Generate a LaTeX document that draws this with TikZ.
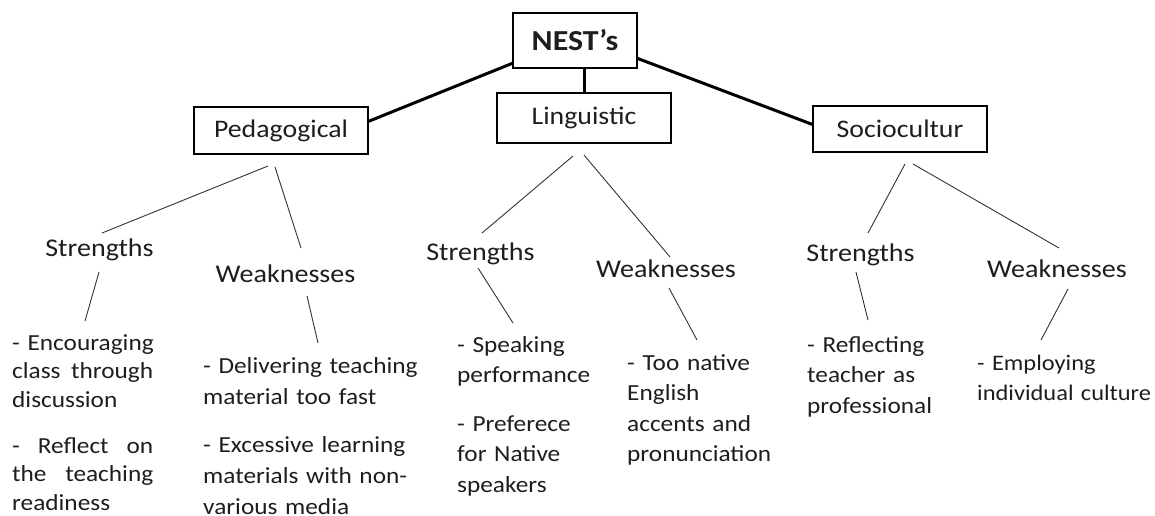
\documentclass[tikz,border=0pt]{standalone}
\usepackage{fontspec}
\setmainfont{Carlito}[FakeStretch=1.1]
\definecolor{textc}{HTML}{1E1E1E}
\definecolor{linec}{HTML}{333333}
\newcommand{\jline}[1]{\leavevmode\hbox to 141pt{#1}}
\begin{document}
\begin{tikzpicture}[x=1pt,y=-1pt,
  box/.style={draw=black, line width=1.4pt, inner sep=0pt, font=\fontsize{25.3}{30}\selectfont, text=textc},
  trunk/.style={line width=3pt, draw=black},
  twig/.style={line width=0.9pt, draw=linec},
  lbl/.style={inner sep=0pt, anchor=base, font=\fontsize{25.5}{30}\selectfont, text=textc},
  itema/.style={inner sep=0pt, anchor=base west, align=left, text width=#1, font=\fontsize{23}{28.5}\selectfont, text=textc},
  itemb/.style={inner sep=0pt, anchor=base west, align=left, text width=#1, font=\fontsize{23}{30.5}\selectfont, text=textc},
  itemc/.style={inner sep=0pt, anchor=base west, align=left, text width=#1, font=\fontsize{23}{31}\selectfont, text=textc},
]
\fill[white] (0,0) rectangle (1155,515);
\useasboundingbox (0,0) rectangle (1155,515);

% boxes
\node[box, minimum width=124pt, minimum height=55pt, font=\fontsize{29}{30}\selectfont\bfseries] (nest) at (575,40.5) {NEST’s};
\node[box, minimum width=174pt, minimum height=47pt] (ped) at (281,130.5) {Pedagogical};
\node[box, minimum width=174pt, minimum height=50pt] (ling) at (584,118) {Linguistic};
\node[box, minimum width=174pt, minimum height=46pt] (soc) at (900,129) {Sociocultur};

% trunks
\draw[trunk] (nest.200) -- (ped.6);
\draw[trunk] (nest.south -| ling.north) -- (ling.north);
\draw[trunk] (nest.-16) -- (soc.177);

% labels
\node[lbl] (pS) at (99.5,256) {Strengths};
\node[lbl] (pW) at (285.5,282) {Weaknesses};
\node[lbl] (lS) at (480.5,260) {Strengths};
\node[lbl] (lW) at (666,277) {Weaknesses};
\node[lbl] (sS) at (860.5,261) {Strengths};
\node[lbl] (sW) at (1057,277) {Weaknesses};

% connector end points
\coordinate (pa1) at (268,166); \coordinate (pa2) at (102,233);
\coordinate (pb1) at (275,167); \coordinate (pb2) at (301,248);
\coordinate (pc1) at (99,272);  \coordinate (pc2) at (85,321);
\coordinate (pd1) at (307,296); \coordinate (pd2) at (318,343);
\coordinate (la1) at (573,156); \coordinate (la2) at (482,233);
\coordinate (lb1) at (584,155); \coordinate (lb2) at (670,257);
\coordinate (lc1) at (478,268); \coordinate (lc2) at (513,323);
\coordinate (ld1) at (669,288); \coordinate (ld2) at (697,340);
\coordinate (sa1) at (905,164); \coordinate (sa2) at (868,233);
\coordinate (sb1) at (913,164); \coordinate (sb2) at (1059,248);
\coordinate (sc1) at (856,272); \coordinate (sc2) at (868,320);
\coordinate (sd1) at (1068,289); \coordinate (sd2) at (1041,340);

\draw[twig] (pa1) -- (pa2);
\draw[twig] (pb1) -- (pb2);
\draw[twig] (pc1) -- (pc2);
\draw[twig] (pd1) -- (pd2);
\draw[twig] (la1) -- (la2);
\draw[twig] (lb1) -- (lb2);
\draw[twig] (lc1) -- (lc2);
\draw[twig] (ld1) -- (ld2);
\draw[twig] (sa1) -- (sa2);
\draw[twig] (sb1) -- (sb2);
\draw[twig] (sc1) -- (sc2);
\draw[twig] (sd1) -- (sd2);

% items
\node[itema=160pt] (ps1) at (12,350) {- Encouraging\\\jline{class\hfill through}\\discussion};
\node[itema=160pt] (ps2) at (12,453) {\jline{-\hfill Reflect\hfill on}\\\jline{the\hfill teaching}\\readiness};
\node[itemc=240pt] (pw1) at (203,373) {- Delivering teaching\\material too fast};
\node[itemc=240pt] (pw2) at (203,452.5) {- Excessive learning\\materials with non-\\various media};
\node[itemb=160pt] (ls1) at (457,352) {- Speaking\\performance};
\node[itemb=160pt] (ls2) at (457,431) {- Preferece\\for Native\\speakers};
\node[itemb=170pt] (lw1) at (627,370) {- Too native\\English\\accents and\\pronunciation};
\node[itemb=160pt] (ss1) at (807,352) {- Reflecting\\teacher as\\professional};
\node[itemb=178pt, font=\fontsize{22.2}{30.5}\selectfont] (sw1) at (977,370) {- Employing\\individual culture};
\end{tikzpicture}
\end{document}
